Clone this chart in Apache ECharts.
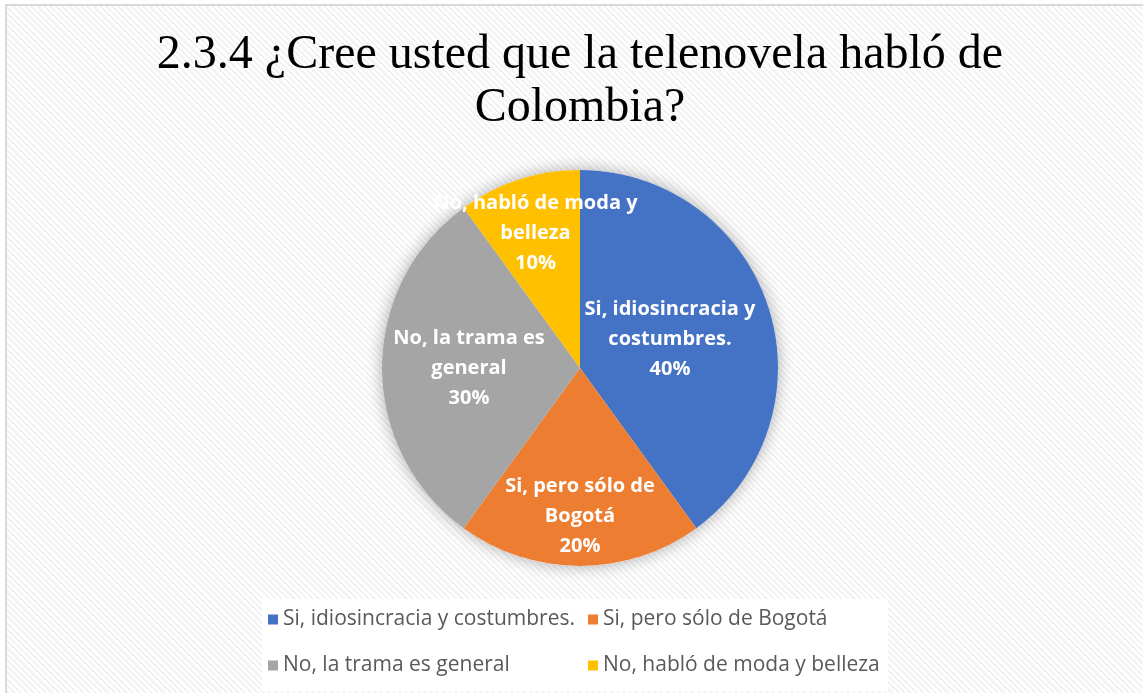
<!DOCTYPE html>
<html>
<head>
<meta charset="utf-8">
<script src="https://cdn.jsdelivr.net/npm/echarts@6/dist/echarts.min.js"></script>
<style>
  html, body { margin: 0; padding: 0; width: 1143px; height: 693px; overflow: hidden; background: #ffffff; }
  #frame {
    position: absolute; left: 5px; top: 4px; width: 1150px; height: 700px;
    border: 2px solid #d9d9d9; box-sizing: border-box;
    background: repeating-linear-gradient(45deg, #ffffff 0px, #ffffff 2.2px, #f3f3f3 2.2px, #f3f3f3 4.4px);
  }
  #chart { position: absolute; left: 6px; top: 5px; width: 1148px; height: 700px; }
</style>
</head>
<body>
<div id="frame"></div>
<div id="chart"></div>
<script>
const titleText = "2.3.4 ¿Cree usted que la telenovela habló de\nColombia?";
const categories = ["Si, idiosincracia y costumbres.", "Si, pero sólo de Bogotá", "No, la trama es general", "No, habló de moda y belleza"];
const values = [40, 20, 30, 10];
const labelLines = ["Si, idiosincracia y\ncostumbres.", "Si, pero sólo de\nBogotá", "No, la trama es\ngeneral", "No, habló de moda y\nbelleza"];
const colors = ["#4472C4", "#ED7D31", "#A5A5A5", "#FFC000"];

const total = values.reduce((a, b) => a + b, 0);
const labelShift = [[-7, 3], [0, 46], [-9, 0], [-13, -38]];

const chart = echarts.init(document.getElementById('chart'), null, { renderer: 'canvas' });
const legendText = { color: '#595959', fontSize: 21, fontFamily: 'Open Sans', lineHeight: 20 };
const option = {
  backgroundColor: 'transparent',
  animation: false,
  title: {
    text: titleText,
    left: 'center',
    top: 24,
    padding: 0,
    textStyle: { fontFamily: 'Liberation Serif', fontWeight: 'normal', fontSize: 48, lineHeight: 53, color: '#000000' }
  },
  legend: [
    {
      data: [categories[0], categories[2]],
      orient: 'vertical', left: 256, top: 594,
      padding: [10, 8, 15, 6],
      backgroundColor: '#ffffff',
      itemWidth: 10, itemHeight: 10, itemGap: 25,
      icon: 'rect',
      textStyle: legendText,
      selectedMode: false
    },
    {
      data: [categories[1], categories[3]],
      orient: 'vertical', left: 576, top: 594,
      padding: [10, 8, 15, 6],
      backgroundColor: '#ffffff',
      itemWidth: 10, itemHeight: 10, itemGap: 25,
      icon: 'rect',
      textStyle: legendText,
      selectedMode: false
    }
  ],
  series: [
    {
      type: 'pie',
      name: 'shadow',
      silent: true,
      center: [574, 363],
      radius: 198,
      z: 1,
      label: { show: false },
      labelLine: { show: false },
      itemStyle: { color: '#ffffff', shadowBlur: 16, shadowColor: 'rgba(0,0,0,0.32)' },
      data: [{ name: '__total', value: total }]
    },
    {
      type: 'pie',
      name: 'main',
      center: [574, 363],
      radius: 198,
      startAngle: 90,
      clockwise: true,
      z: 2,
      itemStyle: { borderWidth: 0 },
      label: {
        show: true,
        position: 'inside',
        color: '#ffffff',
        fontFamily: 'Open Sans',
        fontWeight: 'bold',
        fontSize: 20,
        lineHeight: 30,
        align: 'center',
        formatter: p => labelLines[p.dataIndex] + '\n' + p.value + '%'
      },
      labelLayout: p => ({ dx: labelShift[p.dataIndex][0], dy: labelShift[p.dataIndex][1] }),
      data: categories.map((c, i) => ({ name: c, value: values[i], itemStyle: { color: colors[i] } }))
    }
  ]
};
chart.setOption(option);
</script>
</body>
</html>
